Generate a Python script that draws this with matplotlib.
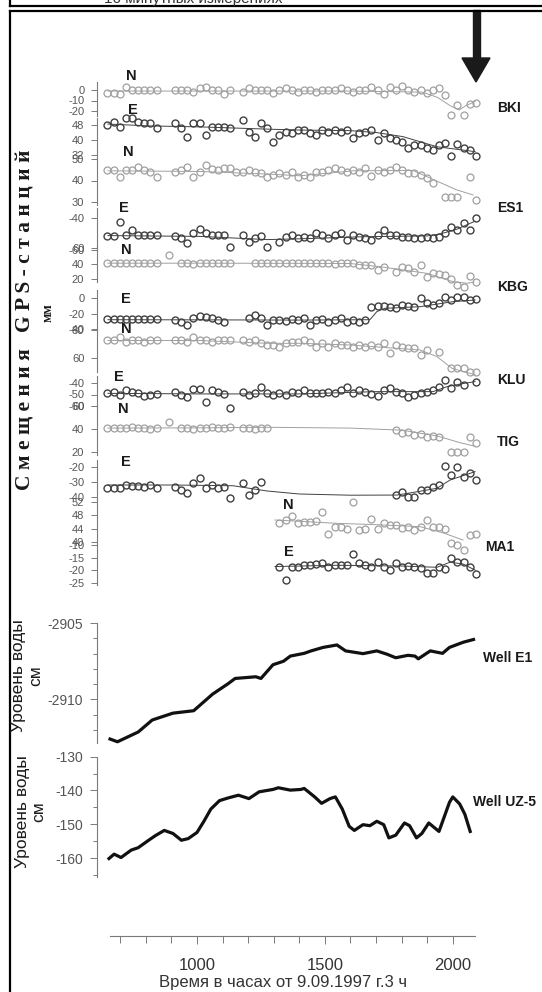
import numpy as np
import matplotlib
matplotlib.use("Agg")
import matplotlib.pyplot as plt
from matplotlib.lines import Line2D
from matplotlib.patches import Polygon, Rectangle

plt.rcParams['font.family'] = ['Liberation Sans', 'DejaVu Sans']

N_ = np.nan
# ------------------------------------------------------------------ data
gps_start_h = 650          # first daily GPS solution (hours)
gps_step_h = 24            # daily solutions
n_days = 61

bki_n = [-3, -3, -4, 3, 0, 0, 0, 0, 0, N_,
         N_, 0, 0, 0, -2, 2, 3, 0, 0, -4,
         0, N_, -2, 2, 0, 0, 0, -3, 0, 2,
         0, -2, 0, 0, -2, 0, 0, 0, 2, 0,
         -2, 0, 0, 3, 0, -4, 3, 0, 4, 0,
         -2, 0, -3, 0, 2, -5, -24, -14, -24, -13,
         -12]
bki_e = [48, 49.6, 47, 51.7, 51.7, 49.6, 48.9, 48.9, 46.4, N_,
         N_, 49, 46.4, 41.6, 48.9, 48.9, 42.7, 46.9, 46.9, 46.9,
         46.4, N_, 50.7, 44.3, 41.6, 49, 46.4, 39, 42.7, 44.3,
         44, 45.3, 45.3, 44, 42.7, 45.3, 44.3, 45.3, 44.3, 45.5,
         41, 43.5, 44.3, 45.3, 40, 43.5, 41, 40, 39, 35.7,
         37.3, 37.3, 35.7, 34.7, 37.3, 38.2, 31.5, 38, 36, 34.7,
         31.5]
es1_n = [44.9, 44.9, 41.5, 44.9, 44.9, 46.4, 44.9, 44.1, 41.5, N_,
         N_, 44.1, 44.9, 46.4, 41.5, 44.1, 47.2, 45.3, 44.9, 45.7,
         45.7, 44.1, 44.1, 44.9, 44.1, 43.3, 41.8, 42.6, 43.3, 42.6,
         44.1, 41.8, 42.6, 41.8, 44.1, 44.1, 44.9, 45.7, 44.9, 44.1,
         44.9, 44.1, 45.7, 42.1, 44.9, 44.1, 45, 46.4, 44.9, 43.3,
         43.3, 42.6, 41, 39, N_, 32.5, 32.5, 32.5, N_, 41.6,
         30.9]
es1_e = [-51, -51, -42.3, -50.6, -47.5, -50.6, -50.6, -50.6, -50.6, N_,
         N_, -51, -52.2, -55.8, -49.6, -47.1, -49.2, -50.6, -50.6, -50.6,
         -57.9, N_, -50.6, -54.8, -52.7, -51, -57.9, N_, -54.8, -51.7,
         -50.6, -52.7, -51.7, -52.7, -49.6, -50.6, -52.7, -50.6, -49.6, -53.8,
         -50.6, -51.7, -52.7, -53.8, -50.6, -47.5, -50.6, -50.6, -51.7, -51.7,
         -52.7, -52.7, -51.7, -52.7, -51.7, -49.6, -45.4, -47.5, -43.3, -47.5,
         -40.2]
kbg_n = [40.2, 40.2, 40.2, 40.2, 40.2, 40.2, 41, 40.2, 40.2, N_,
         51, N_, 40.2, 40.2, 39.5, 40.2, 40.2, 41, 40.2, 40.2,
         41, N_, N_, N_, 40.2, 40.2, 40.2, 41, 40.2, 40.2,
         40.2, 41, 41, 40.2, 40.2, 40.2, 40.2, 39.5, 40.2, 40.2,
         40.2, 38, 38, 38, 31.6, 35.9, N_, 29.4, 35.9, 34,
         29.4, 38, 23, 27.3, 26, 25.2, 20, 12.3, 10.1, 23.9,
         16.6]
kbg_e = [-27.5, -27.5, -27.5, -27.5, -27.5, -27.5, -27.5, -27.5, -27.5, N_,
         N_, -28.4, -30.5, -34.8, -26.3, -23.2, -24.6, -26.3, -28.4, -30.5,
         N_, N_, N_, -26.3, -21.9, -26.3, -34.8, -28.4, -28.4, -30,
         -27.5, -28.4, -26.3, -34.8, -28.4, -27.5, -30.5, -28.4, -26.3, -30.5,
         -28.4, -30.5, -28.4, -11, -10.2, -10.2, -11, -13.3, -9, -10.2,
         -11, -0.4, -7, -9, -7, 1.7, -2.6, 1.7, 1.7, -2.6,
         -1]
klu_n = [72.9, 72.9, 74.8, 71.7, 72.9, 72.9, 71.7, 72.9, 72.9, N_,
         N_, 72.9, 72.9, 71.7, 74.8, 72.9, 72.9, 71.7, 72.9, 72.9,
         72.9, N_, 72.9, 71.7, 72.9, 70.5, 69.3, 69.3, 68.1, 70.5,
         71.7, 71.7, 72.9, 71.7, 68.1, 70.5, 68.1, 70.5, 69.3, 69.3,
         68.1, 69.3, 68.1, 69.3, 68.1, 70.5, 63.3, 69.3, 68.1, 66.9,
         66.9, 62.1, 65.7, N_, 64.5, N_, 52.6, 52.6, 52.6, 50.2,
         50.2]
klu_e = [-49, -47.5, -50.4, -46.1, -47.5, -49, -51.3, -50.4, -49.6, N_,
         N_, -47.5, -50.4, -51.9, -45.5, -45.5, -56.2, -46.1, -47.5, -49.6,
         -62, N_, -47.5, -50.4, -49, -43.2, -48.4, -50.4, -49, -50.4,
         -47.5, -49, -46.1, -49, -48.4, -49, -47.5, -49, -46.1, -43.7,
         -49, -46.1, -47.5, -49.6, -51.3, -46.1, -44.6, -47.5, -49, -51.9,
         -50.4, -48.4, -47.5, -46.1, -43.7, -37.4, -44.6, -38.8, -41.7, N_,
         -38.8]
tig_n = [40.6, 40.6, 40.6, 40.6, 41.4, 40.6, 40.6, 39.8, 40.6, N_,
         46.3, N_, 40.6, 40.6, 39.8, 40.6, 40.6, 41.4, 40.6, 40.6,
         41.4, N_, 40.6, 40.6, 39.8, 40.6, 40.6, N_, N_, N_,
         N_, N_, N_, N_, N_, N_, N_, N_, N_, N_,
         N_, N_, N_, N_, N_, N_, N_, 39.1, 36.8, 37.7,
         34.8, 36, 33.3, 34, 33.3, N_, 20.3, 20.3, 20.3, 33.3,
         28.1]
tig_e = [-34.2, -34.2, -34.2, -32, -32.7, -32.7, -33.1, -32, -34.2, N_,
         N_, -33.1, -35.3, -37.6, -30.4, -27.6, -34.2, -32, -34.2, -33.6,
         -40.9, N_, -30.9, -38.7, -35.3, -29.8, N_, N_, N_, N_,
         N_, N_, N_, N_, N_, N_, N_, N_, N_, N_,
         N_, N_, N_, N_, N_, N_, N_, -38.7, -36.5, -39.8,
         -40, -35.3, -35, -33, -32, -19.3, -25.3, -20, -26.4, -24,
         -28.7]
ma1_n = [N_] * 28 + [45.6, 46.6, 47.8, 45.6, 46.1, 46.1, 46.4, 49.1, 42.4, 44.4,
                     44.4, 43.8, 52.1, 43.6, 43.8, 46.8, 43.8, 45.8, 45.1, 45.1,
                     44.1, 44.4, 43.6, 44.4, 46.6, 44.6, 44.6, 44, 39.6, 39.1,
                     37.6, 42.1, 42.4]
ma1_e = [N_] * 28 + [-18.5, -23.8, -18.5, -18.5, -17.9, -17.9, -17.5, -17.2, -18.8, -17.9,
                     -17.9, -17.9, -13.5, -17.2, -17.9, -18.5, -16.6, -18.5, -19.9, -17.2,
                     -18.5, -18.3, -18.5, -19.2, -21.2, -21.2, -18.5, -19.6, -15.3, -16.6,
                     -16.6, -18.5, -21.4]

# smoothed trend lines (hours, mm)
bki_n_trend_t = [652, 1012, 1598, 1880, 1940, 1990, 2025, 2050, 2087]
bki_n_trend_v = [-1, -1, -1, -2, -7, -15, -19, -15, -11]
bki_e_trend_t = [652, 816, 1012, 1274, 1403, 1598, 1700, 1805, 1938, 2087]
bki_e_trend_v = [48.5, 47.5, 47, 45.8, 45.3, 45, 44, 41.8, 36.4, 33.8]
es1_n_trend_t = [652, 1012, 1274, 1403, 1610, 1844, 1923, 2016, 2079]
es1_n_trend_v = [44.5, 44.2, 43, 42.2, 44.5, 44.7, 40.5, 35.6, 33.3]
es1_e_trend_t = [652, 1012, 1274, 1403, 1650, 1900, 1950, 2016, 2087]
es1_e_trend_v = [-51, -51.5, -53.5, -53, -51.7, -51.2, -50, -47, -42]
kbg_n_trend_t = [652, 1012, 1403, 1598, 1715, 1810, 1899, 2001, 2056, 2083]
kbg_n_trend_v = [40.4, 40.4, 40.2, 40, 35.9, 31.5, 27.3, 16.5, 14.5, 16]
kbg_e_trend_t = [652, 1012, 1403, 1676, 1703, 1735, 1872, 2001, 2087]
kbg_e_trend_v = [-28, -28.2, -28.5, -28, -17.6, -13.3, -11.2, -4.7, -2.6]
klu_n_trend_t = [652, 1012, 1274, 1403, 1598, 1872, 1938, 1997, 2087]
klu_n_trend_v = [72.5, 72.5, 70.5, 70.5, 69.3, 65.7, 61, 52.6, 48]
klu_e_trend_t = [652, 1012, 1403, 1700, 1923, 1977, 2040, 2087]
klu_e_trend_v = [-49, -49.5, -49.5, -47.5, -47.5, -43.2, -40.5, -38.8]
tig_n_trend_t = [652, 1012, 1274, 1598, 1800, 1938, 2030, 2087]
tig_n_trend_v = [40.8, 41, 41.5, 40.8, 39, 34, 28, 25]
tig_e_trend_t = [652, 900, 1141, 1274, 1400, 1600, 1782, 1864, 1938, 1989, 2087]
tig_e_trend_v = [-32, -32, -32.5, -36, -38, -38.8, -38.7, -36.4, -34.2, -28.7, -23.1]
ma1_n_trend_t = [1305, 1547, 1700, 1872, 1960, 2040]
ma1_n_trend_v = [46.6, 45.6, 45.2, 44.6, 42.8, 40.6]
ma1_e_trend_t = [1305, 1547, 1800, 1938, 1989, 2040, 2087]
ma1_e_trend_v = [-18.5, -18, -18.3, -18.8, -16.8, -17.5, -19.9]

# tick labels of the stacked GPS axes
bki_n_ticks = [0, -10, -20]
bki_e_ticks = [48, 40, 32]
es1_n_ticks = [50, 40, 30]
es1_e_ticks = [-40, -60]
kbg_n_ticks = [60, 40, 20]
kbg_e_ticks = [0, -20, -40]
klu_n_ticks = [80, 60]
klu_e_ticks = [-40, -50, -60]
tig_n_ticks = [60, 40, 20]
tig_e_ticks = [-20, -30, -40]
ma1_n_ticks = [52, 48, 44, 40]
ma1_e_ticks = [-10, -15, -20, -25]

stations = ["BKI", "ES1", "KBG", "KLU", "TIG", "MA1"]

# water level in wells (hours, cm)
well_e1_t = [660, 689, 770, 825, 906, 987, 1061, 1122, 1149, 1230, 1250, 1297, 1338,
             1365, 1419, 1446, 1493, 1547, 1581, 1649, 1703, 1743, 1777, 1825, 1852,
             1865, 1912, 1960, 1987, 2041, 2081]
well_e1_v = [-2912.61, -2912.79, -2912.15, -2911.36, -2910.91, -2910.75, -2909.66,
             -2908.97, -2908.63, -2908.52, -2908.63, -2907.73, -2907.50, -2907.16,
             -2906.98, -2906.82, -2906.59, -2906.43, -2906.82, -2907.0, -2906.82,
             -2907.04, -2907.27, -2907.11, -2907.16, -2907.34, -2906.82, -2906.98,
             -2906.59, -2906.25, -2906.07]
well_uz5_t = [656, 676, 703, 743, 770, 811, 838, 872, 906, 939, 966, 1000, 1027, 1054,
              1088, 1122, 1162, 1203, 1243, 1297, 1318, 1365, 1406, 1419, 1460, 1487,
              1520, 1541, 1568, 1595, 1615, 1649, 1676, 1703, 1730, 1750, 1777, 1811,
              1831, 1858, 1879, 1906, 1946, 1987, 2000, 2027, 2047, 2068]
well_uz5_v = [-160.1, -158.8, -159.8, -157.6, -156.9, -154.7, -153.3, -151.8, -152.7,
              -154.7, -154.2, -152.4, -149.1, -145.5, -143.0, -142.2, -141.4, -142.4,
              -140.4, -139.7, -139.2, -139.9, -139.7, -139.4, -141.9, -143.8, -142.4,
              -141.9, -145.5, -150.6, -151.8, -150.1, -150.4, -149.1, -150.1, -154.0,
              -153.2, -149.6, -150.4, -154.0, -152.7, -149.6, -152.1, -143.5, -141.9,
              -144.0, -147.0, -152.1]
x_major = [1000, 1500, 2000]

# ------------------------------------------------------------------ layout
W, H = 542, 992
fig = plt.figure(figsize=(W / 100, H / 100), dpi=100)

PX_PER_H = 0.2558
X_REF_PX, X_REF_H = 197.0, 1000.0


def hours_at(px):
    return X_REF_H + (px - X_REF_PX) / PX_PER_H


def fx(px):
    return px / W


def fy(py):
    return 1 - py / H


def px_axes(x0, y0, x1, y1):
    ax = fig.add_axes([fx(x0), fy(y1), (x1 - x0) / W, (y1 - y0) / H])
    ax.patch.set_visible(False)
    ax.set_xlim(hours_at(x0), hours_at(x1))
    for s in ax.spines.values():
        s.set_visible(False)
    ax.set_xticks([])
    ax.set_yticks([])
    return ax


def set_ymap(ax, y0, y1, va, pa, vb, pb):
    k = (vb - va) / (pb - pa)
    ax.set_ylim(va + (y1 - pa) * k, va + (y0 - pa) * k)
    return lambda py: va + (py - pa) * k


AX_GREY = '#7a7a7a'
LBL_GREY = '#555555'
N_COL = '#a0a0a0'
E_COL = '#404040'

gps_t = gps_start_h + gps_step_h * np.arange(n_days)

# stacked GPS panels: data, trend, ticks, (value, px, value, px), spine px range, colour
GX0, GX1, GY0, GY1 = 96.8, 482, 60, 600
panels = [
    (bki_n, bki_n_trend_t, bki_n_trend_v, bki_n_ticks, (0, 90, -20, 111), (82, 116), N_COL),
    (bki_e, bki_e_trend_t, bki_e_trend_v, bki_e_ticks, (48, 125, 32, 155), (118, 156), E_COL),
    (es1_n, es1_n_trend_t, es1_n_trend_v, es1_n_ticks, (50, 159, 30, 202), (157, 205), N_COL),
    (es1_e, es1_e_trend_t, es1_e_trend_v, es1_e_ticks, (-40, 218, -60, 250), (208, 251), E_COL),
    (kbg_n, kbg_n_trend_t, kbg_n_trend_v, kbg_n_ticks, (60, 248, 20, 279), (246, 282), N_COL),
    (kbg_e, kbg_e_trend_t, kbg_e_trend_v, kbg_e_ticks, (0, 298, -40, 329), (290, 330), E_COL),
    (klu_n, klu_n_trend_t, klu_n_trend_v, klu_n_ticks, (80, 330, 60, 358), (330, 372), N_COL),
    (klu_e, klu_e_trend_t, klu_e_trend_v, klu_e_ticks, (-40, 383, -60, 406), (376, 407), E_COL),
    (tig_n, tig_n_trend_t, tig_n_trend_v, tig_n_ticks, (60, 406, 20, 452), (405, 455), N_COL),
    (tig_e, tig_e_trend_t, tig_e_trend_v, tig_e_ticks, (-20, 467, -40, 497), (460, 500), E_COL),
    (ma1_n, ma1_n_trend_t, ma1_n_trend_v, ma1_n_ticks, (52, 502, 40, 542), (500, 545), N_COL),
    (ma1_e, ma1_e_trend_t, ma1_e_trend_v, ma1_e_ticks, (-10, 545, -25, 583), (545, 585), E_COL),
]

for data, tt, tv, ticks, anchor, sp, col in panels:
    ax = px_axes(GX0, GY0, GX1, GY1)
    v_at = set_ymap(ax, GY0, GY1, *anchor)
    ax.spines['left'].set_visible(True)
    ax.spines['left'].set_bounds(v_at(sp[1]), v_at(sp[0]))
    ax.spines['left'].set_color(AX_GREY)
    ax.spines['left'].set_linewidth(0.8)
    ax.set_yticks(ticks)
    ax.set_yticklabels([f"{t:g}" for t in ticks])
    ax.tick_params(axis='y', direction='out', length=4, width=0.7, color=AX_GREY,
                   labelsize=8, labelcolor=LBL_GREY, pad=5)
    ax.plot(tt, tv, color=col, lw=0.7, zorder=2)
    ax.plot(gps_t, data, ls='none', marker='o', ms=5.0,
            mfc='none', mec=col, mew=1.0 if col == E_COL else 0.9, zorder=3)

# component and station labels
comp_labels = [("N", 131, 76), ("E", 133, 110), ("N", 128, 152), ("E", 124, 208),
               ("N", 126, 250), ("E", 126, 299), ("N", 126, 329), ("E", 119, 377),
               ("N", 123, 409), ("E", 126, 462), ("N", 288, 505), ("E", 289, 552)]
for s, x, y in comp_labels:
    fig.text(fx(x), fy(y), s, ha='center', va='center', fontsize=10.5,
             fontweight='bold', color='#1a1a1a')
station_pos = [(497, 108), (497, 208), (497, 287), (497, 380), (497, 442), (485, 547)]
for s, (x, y) in zip(stations, station_pos):
    fig.text(fx(x), fy(y), s, ha='left', va='center', fontsize=10,
             fontweight='bold', color='#1a1a1a')

fig.text(fx(26), fy(320), "С м е щ е н и я   G P S - с т а н ц и й", rotation=90,
         ha='center', va='center', fontsize=15.5, fontweight='bold',
         family=['Liberation Serif', 'DejaVu Serif'], color='#1a1a1a')
fig.text(fx(48), fy(313), "мм", rotation=90, ha='center', va='center', fontsize=10,
         fontweight='bold', family=['Liberation Serif', 'DejaVu Serif'], color='#1a1a1a')

# ---- well E1
ax = px_axes(96.8, 612, 482, 748)
v_at = set_ymap(ax, 612, 748, -2905, 623.2, -2910, 699.3)
ax.spines['left'].set_visible(True)
ax.spines['left'].set_bounds(v_at(742.5), -2905)
ax.spines['left'].set_color(AX_GREY)
ax.spines['left'].set_linewidth(0.8)
ax.set_yticks([-2905, -2910])
ax.set_yticklabels(["-2905", "-2910"])
ax.set_yticks([-2906, -2907, -2908, -2909, -2911, -2912], minor=True)
ax.tick_params(axis='y', which='both', direction='out', length=5, width=0.7,
               color=AX_GREY, labelsize=10, labelcolor=LBL_GREY, pad=5)
ax.tick_params(axis='y', which='minor', length=3)
ax.plot(well_e1_t, well_e1_v, color='#111111', lw=2.3, solid_joinstyle='round')
fig.text(fx(483), fy(658), "Well E1", ha='left', va='center', fontsize=10,
         fontweight='bold', color='#1a1a1a')

# ---- well UZ-5
ax = px_axes(96.8, 748, 482, 884)
v_at = set_ymap(ax, 748, 884, -130, 756.6, -160, 858.2)
ax.spines['left'].set_visible(True)
ax.spines['left'].set_bounds(v_at(876.5), -130)
ax.spines['left'].set_color(AX_GREY)
ax.spines['left'].set_linewidth(0.8)
ax.set_yticks([-130, -140, -150, -160])
ax.set_yticklabels(["-130", "-140", "-150", "-160"])
ax.set_yticks([-135, -145, -155, -165], minor=True)
ax.tick_params(axis='y', which='both', direction='out', length=5, width=0.7,
               color=AX_GREY, labelsize=10, labelcolor=LBL_GREY, pad=5)
ax.tick_params(axis='y', which='minor', length=3)
ax.plot(well_uz5_t, well_uz5_v, color='#111111', lw=2.3, solid_joinstyle='round')
fig.text(fx(473), fy(802), "Well UZ-5", ha='left', va='center', fontsize=10,
         fontweight='bold', color='#1a1a1a')

for xc1, xc2, yc in [(19, 36, 676), (23, 39, 812)]:
    fig.text(fx(xc1), fy(yc), "Уровень воды", rotation=90, ha='center', va='center',
             fontsize=12.5, color='#1a1a1a')
    fig.text(fx(xc2), fy(yc), "см", rotation=90, ha='center', va='center',
             fontsize=12.5, color='#1a1a1a')

# ---- common time axis
ax = px_axes(96.8, 900, 482, 936)
ax.set_ylim(0, 1)
ax.spines['bottom'].set_visible(True)
ax.spines['bottom'].set_bounds(hours_at(110), hours_at(475.3))
ax.spines['bottom'].set_color(AX_GREY)
ax.spines['bottom'].set_linewidth(0.8)
ax.set_xticks(x_major)
ax.set_xticklabels([str(v) for v in x_major])
ax.set_xticks([h for h in range(700, 2100, 100) if h not in x_major], minor=True)
ax.tick_params(axis='x', which='both', direction='out', length=6, width=0.7,
               color=AX_GREY, labelsize=12, labelcolor='#333333', pad=10)
ax.tick_params(axis='x', which='minor', length=5)
fig.text(fx(283), fy(983), "Время в часах от 9.09.1997 г.3 ч", ha='center', va='center',
         fontsize=12, color='#333333')

# ---- frame, cut header and arrow
for (x0, y0, x1, y1) in [(10, 6, 545, 6), (10, 10.5, 545, 10.5), (10, -2, 10, 6),
                         (10, 10.5, 10, 995)]:
    fig.add_artist(Line2D([fx(x0), fx(x1)], [fy(y0), fy(y1)], color='black', lw=1.6,
                          transform=fig.transFigure))
fig.text(fx(104), fy(2.5), "16 минутных измерениях", ha='left', va='baseline',
         fontsize=11, color='#333333')
fig.add_artist(Rectangle((fx(473), fy(60)), 7 / W, 50 / H, color='#1a1a1a',
                         transform=fig.transFigure))
fig.add_artist(Polygon([[fx(462), fy(58)], [fx(490), fy(58)], [fx(476), fy(82)]],
                       closed=True, color='#1a1a1a', transform=fig.transFigure))

fig.savefig("out.png", dpi=100, facecolor='white')
